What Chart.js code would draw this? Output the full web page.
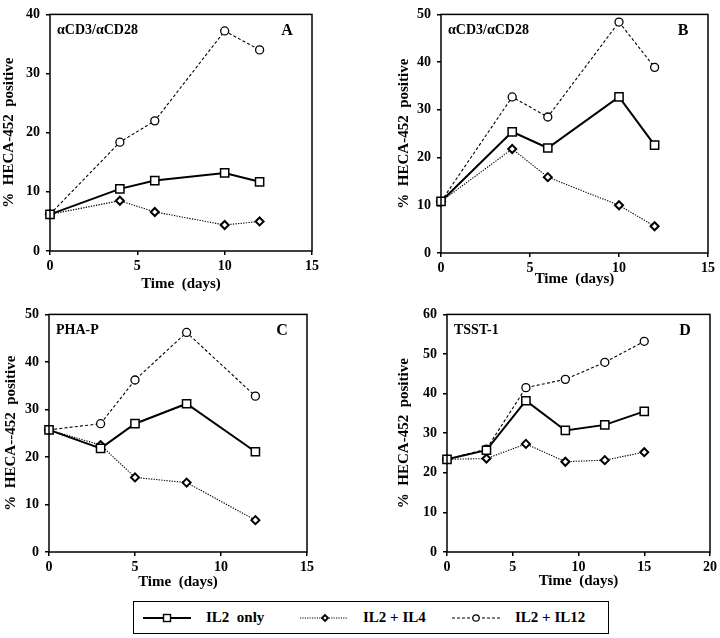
<!DOCTYPE html>
<html lang="en">
<head>
  <meta charset="UTF-8" />
  <title>HECA-452 positive</title>
  <script src="https://cdn.jsdelivr.net/npm/chart.js@4.4.0/dist/chart.umd.min.js"></script>
  <style>
    body { margin: 0; background: #fff; }
    #wrap { position: relative; width: 720px; height: 638px; }
    #wrap canvas { position: absolute; }
    #legend {
      position: absolute; left: 133px; top: 601px; width: 474px; height: 31px;
      border: 1.5px solid #000;
      font: bold 15px "Liberation Serif", "DejaVu Serif", serif; color: #000;
    }
    #legend .item { position: absolute; top: 0; height: 31px; display: flex; align-items: center; white-space: pre; }
    #legend svg { margin-right: 13px; }
  </style>
</head>
<body>
  <div id="wrap">
    <canvas id="chart-a" width="360" height="300" style="left:0;top:0"></canvas>
    <canvas id="chart-b" width="360" height="300" style="left:360px;top:0"></canvas>
    <canvas id="chart-c" width="360" height="298" style="left:0;top:300px"></canvas>
    <canvas id="chart-d" width="360" height="298" style="left:360px;top:300px"></canvas>
    <div id="legend">
      <div class="item" style="left:9px">
        <svg width="50" height="12"><line x1="0" y1="6" x2="48" y2="6" stroke="#000" stroke-width="1.8"/><rect x="20.5" y="2.5" width="7" height="7" fill="#fff" stroke="#000" stroke-width="1.4"/></svg>IL2  only</div>
      <div class="item" style="left:166px">
        <svg width="50" height="12"><line x1="0" y1="6" x2="48" y2="6" stroke="#000" stroke-width="1" stroke-dasharray="1.2,1.2"/><path d="M22 6 L25 3 L28 6 L25 9 Z" fill="#fff" stroke="#000" stroke-width="1.8"/></svg>IL2 + IL4</div>
      <div class="item" style="left:318px">
        <svg width="50" height="12"><line x1="0" y1="6" x2="48" y2="6" stroke="#000" stroke-width="1.1" stroke-dasharray="3,2"/><circle cx="24" cy="6" r="3.2" fill="#fff" stroke="#000" stroke-width="1.2"/></svg>IL2 + IL12</div>
    </div>
  </div>

  <script>
    // values (% HECA-452 positive vs time in days)
    var daysA = [0, 4, 6, 10, 12];
    var il2A = [6.2, 10.5, 11.9, 13.2, 11.7];
    var il4A = [6.2, 8.5, 6.6, 4.4, 5.0];
    var il12A = [6.2, 18.4, 22.0, 37.2, 34.0];

    var daysB = [0, 4, 6, 10, 12];
    var il2B = [10.8, 25.4, 22.0, 32.7, 22.6];
    var il4B = [10.8, 21.8, 15.9, 10.0, 5.6];
    var il12B = [10.8, 32.7, 28.5, 48.4, 38.9];

    var daysC = [0, 3, 5, 8, 12];
    var il2C = [25.7, 21.8, 27.0, 31.2, 21.1];
    var il4C = [25.7, 22.5, 15.7, 14.6, 6.7];
    var il12C = [25.7, 27.0, 36.2, 46.2, 32.8];

    var daysD = [0, 3, 6, 9, 12, 15];
    var il2D = [23.4, 25.7, 38.2, 30.7, 32.1, 35.5];
    var il4D = [23.4, 23.6, 27.3, 22.8, 23.2, 25.2];
    var il12D = [23.4, 26.0, 41.5, 43.6, 47.9, 53.2];

    var FONT = '"Liberation Serif", "DejaVu Serif", serif';

    function pts(days, vals) {
      return days.map(function (d, i) { return { x: d, y: vals[i] }; });
    }

    // frame box + labels inside the plot
    var framePlugin = {
      id: 'frame',
      afterDraw: function (chart, args, opts) {
        var a = chart.chartArea, ctx = chart.ctx;
        ctx.save();
        ctx.strokeStyle = '#000';
        ctx.lineWidth = 1.5;
        ctx.strokeRect(a.left, a.top, a.right - a.left, a.bottom - a.top);
        ctx.fillStyle = '#000';
        ctx.textBaseline = 'middle';
        ctx.font = 'bold 14px ' + FONT;
        ctx.textAlign = 'left';
        ctx.fillText(opts.label, a.left + 7, a.top + 16);
        ctx.font = 'bold 16px ' + FONT;
        ctx.textAlign = 'center';
        ctx.fillText(opts.letter, a.right - 25, a.top + 16);
        ctx.restore();
      }
    };

    function makeChart(id, p) {
      var ctx = document.getElementById(id).getContext('2d');
      return new Chart(ctx, {
        type: 'line',
        data: {
          datasets: [{
            label: 'IL2 only',
            data: pts(p.days, p.il2),
            borderColor: '#000',
            borderWidth: 2,
            pointStyle: 'rect',
            pointRadius: 5.8,
            pointBorderWidth: 1.5,
            pointBackgroundColor: '#fff',
            pointBorderColor: '#000',
            clip: false
          }, {
            label: 'IL2 + IL4',
            data: pts(p.days, p.il4),
            borderColor: '#000',
            borderWidth: 1.1,
            borderDash: [1.3, 1.3],
            pointStyle: 'rectRot',
            pointRadius: 4,
            pointBorderWidth: 2,
            pointBackgroundColor: '#fff',
            pointBorderColor: '#000',
            clip: false
          }, {
            label: 'IL2 + IL12',
            data: pts(p.days, p.il12),
            borderColor: '#000',
            borderWidth: 1.1,
            borderDash: [3, 2.2],
            pointStyle: 'circle',
            pointRadius: 4,
            pointBorderWidth: 1.3,
            pointBackgroundColor: '#fff',
            pointBorderColor: '#000',
            clip: false
          }]
        },
        options: {
          responsive: false,
          animation: false,
          layout: { padding: { left: p.padLeft, top: p.padTop, right: p.padRight, bottom: 0 } },
          plugins: {
            legend: { display: false },
            tooltip: { enabled: false },
            frame: { label: p.label, letter: p.letter }
          },
          scales: {
            x: {
              type: 'linear',
              min: 0, max: p.xMax,
              border: { display: false },
              grid: { drawOnChartArea: false, color: '#000', lineWidth: 1.5, tickLength: 4 },
              ticks: { stepSize: 5, color: '#000', padding: 3, maxRotation: 0, font: { family: FONT, size: 14, weight: 'bold' } },
              title: {
                display: true, text: 'Time  (days)', color: '#000',
                padding: { top: 0, bottom: p.xTitlePad },
                font: { family: FONT, size: 15, weight: 'bold' }
              },
              afterFit: function (s) { s.height = p.xHeight; }
            },
            y: {
              min: 0, max: p.yMax,
              border: { display: false },
              grid: { drawOnChartArea: false, color: '#000', lineWidth: 1.5, tickLength: 4 },
              ticks: { stepSize: 10, color: '#000', padding: 6, font: { family: FONT, size: 14, weight: 'bold' } },
              title: {
                display: true, text: p.yTitle, color: '#000',
                padding: { top: p.yTitlePad, bottom: 0 },
                font: { family: FONT, size: 15, weight: 'bold' }
              },
              afterFit: function (s) { s.width = p.yWidth; }
            }
          }
        },
        plugins: [framePlugin]
      });
    }

    makeChart('chart-a', {
      days: daysA, il2: il2A, il4: il4A, il12: il12A,
      label: 'αCD3/αCD28', letter: 'A', xMax: 15, yMax: 40,
      yTitle: '%  HECA-452  positive',
      padLeft: 0, yWidth: 50, padTop: 9, padRight: 48, xHeight: 49, xTitlePad: 7, yTitlePad: 0
    });
    makeChart('chart-b', {
      days: daysB, il2: il2B, il4: il4B, il12: il12B,
      label: 'αCD3/αCD28', letter: 'B', xMax: 15, yMax: 50,
      yTitle: '%  HECA-452  positive',
      padLeft: 35, yWidth: 46, padTop: 9, padRight: 12, xHeight: 47, xTitlePad: 12, yTitlePad: 0
    });
    makeChart('chart-c', {
      days: daysC, il2: il2C, il4: il4C, il12: il12C,
      label: 'PHA-P', letter: 'C', xMax: 15, yMax: 50,
      yTitle: '%  HECA--452  positive',
      padLeft: 0, yWidth: 49, padTop: 12, padRight: 53, xHeight: 46, xTitlePad: 7, yTitlePad: 2
    });
    makeChart('chart-d', {
      days: daysD, il2: il2D, il4: il4D, il12: il12D,
      label: 'TSST-1', letter: 'D', xMax: 20, yMax: 60,
      yTitle: '%  HECA-452  positive',
      padLeft: 35, yWidth: 52, padTop: 12, padRight: 9, xHeight: 46, xTitlePad: 8, yTitlePad: 0
    });
  </script>
</body>
</html>
